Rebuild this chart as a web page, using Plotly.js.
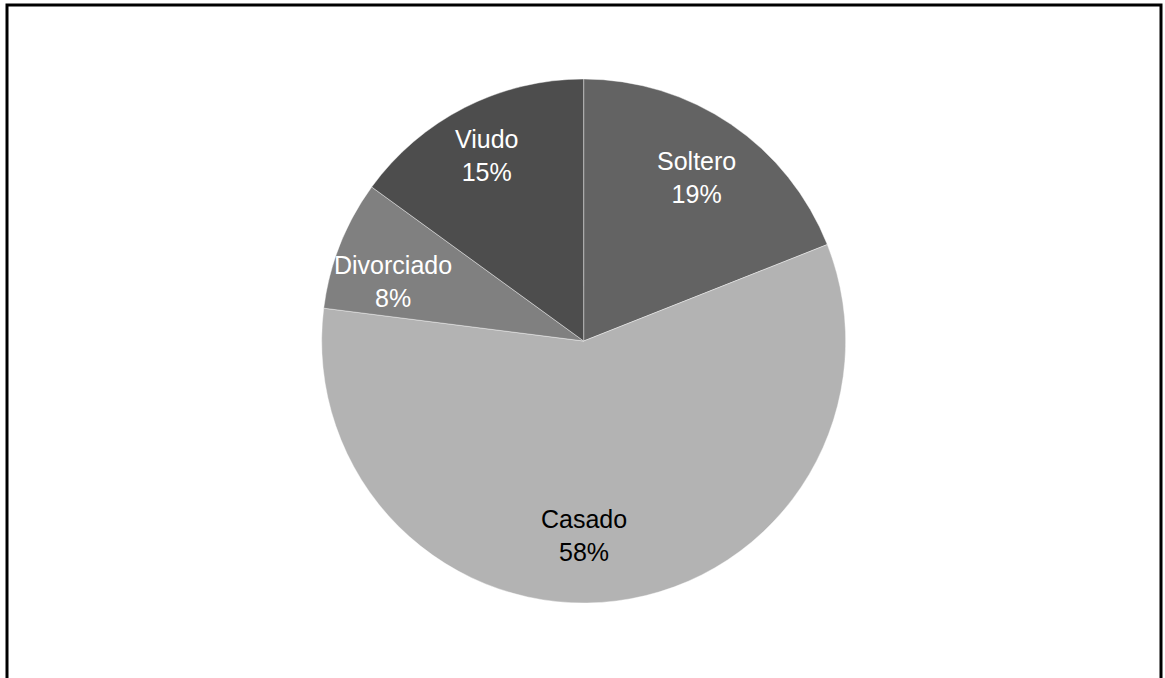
<!DOCTYPE html>
<html>
<head>
<meta charset="utf-8">
<script src="https://cdn.plot.ly/plotly-3.0.1.min.js"></script>
<style>html,body{margin:0;padding:0;background:#fff;}#chart{width:1165px;height:678px;}</style>
</head>
<body>
<div id="chart"></div>
<script>
const categories = ["Soltero", "Casado", "Divorciado", "Viudo"];
const values = [19, 58, 8, 15];
const sliceColors = ["#636363", "#b3b3b3", "#808080", "#4d4d4d"];
const labelColors = ["#ffffff", "#000000", "#ffffff", "#ffffff"];

const W = 1165, H = 678;
const domX = [0.276, 0.726], domY = [0.1106, 0.8835];
// small label nudges (pixels) to mimic the original placement
const nudgeX = [0, -25, -4, -6];
const nudgeY = [-2, 4, -14, 7];

const trace = {
  type: "pie",
  labels: categories,
  values: values,
  sort: false,
  direction: "clockwise",
  rotation: 0,
  marker: { colors: sliceColors, line: { color: "rgba(255,255,255,0.6)", width: 0.7 } },
  textinfo: "none",
  hoverinfo: "label+percent",
  showlegend: false,
  domain: { x: domX, y: domY }
};

// label positions derived from the data (mid-angle of each slice)
const total = values.reduce((a, b) => a + b, 0);
const cx = (domX[0] + domX[1]) / 2 * W;
const cyTop = (1 - (domY[0] + domY[1]) / 2) * H;
const R = Math.min((domX[1] - domX[0]) * W, (domY[1] - domY[0]) * H) / 2;
const annotations = [];
let cum = 0;
values.forEach((v, i) => {
  const mid = (cum + v / 2) / total * 2 * Math.PI;
  cum += v;
  const rr = 0.765 * R;
  const px = cx + rr * Math.sin(mid);
  const py = cyTop - rr * Math.cos(mid);
  annotations.push({
    xref: "paper", yref: "paper",
    x: px / W, y: 1 - py / H,
    xanchor: "center", yanchor: "middle",
    xshift: nudgeX[i], yshift: nudgeY[i],
    showarrow: false,
    text: categories[i] + "<br>" + Math.round(v / total * 100) + "%",
    font: { family: "Liberation Sans, Arial, sans-serif", size: 25, color: labelColors[i] }
  });
});

const layout = {
  width: W,
  height: H,
  margin: { l: 0, r: 0, t: 0, b: 0 },
  paper_bgcolor: "#ffffff",
  showlegend: false,
  annotations: annotations,
  shapes: [{
    type: "rect", xref: "paper", yref: "paper",
    x0: 7 / W, x1: 1161 / W, y0: -0.1, y1: 1 - 5 / H,
    line: { color: "#000000", width: 3 }, fillcolor: "rgba(0,0,0,0)"
  }]
};

Plotly.newPlot("chart", [trace], layout, { displayModeBar: false, staticPlot: true });
</script>
</body>
</html>
